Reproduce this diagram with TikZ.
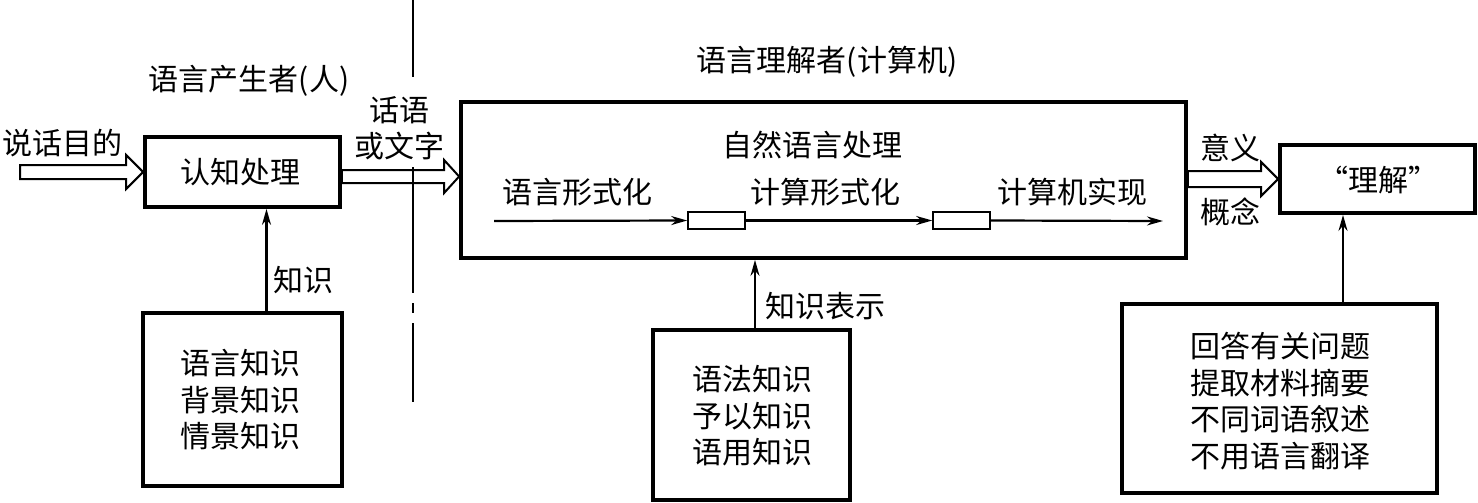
\documentclass[tikz,border=0pt]{standalone}
\usepackage{fontspec}
\newfontfamily\cjk{Noto Sans CJK SC}
\usetikzlibrary{arrows.meta,calc}
\begin{document}
\begin{tikzpicture}[x=1pt,y=-1pt,
  box/.style={draw,line width=3.8pt,inner sep=0pt},
  smallbox/.style={draw,line width=1.6pt,inner sep=0pt,minimum width=57pt,minimum height=17pt},
  lab/.style={font=\cjk\fontsize{30}{36.5}\selectfont,inner sep=0pt,align=center},
  thinarrow/.style={line width=2.2pt,-{Stealth[length=16pt,width=9pt]}},
  hollow/.style={draw,line width=2pt,fill=white,line join=miter},
  sep/.style={line width=2.2pt}
]
\useasboundingbox (0,0) rectangle (1478,503);

% main boxes
\node[box,minimum width=195pt,minimum height=70pt] (cog) at (242.5,172) {};
\node[box,minimum width=725pt,minimum height=156pt] (big) at (823.5,180) {};
\node[box,minimum width=195pt,minimum height=68pt] (und) at (1377.5,179) {};
\node[box,minimum width=199pt,minimum height=173pt] (k1) at (242.5,399.5) {};
\node[box,minimum width=197pt,minimum height=170pt] (k2) at (751.5,415) {};
\node[box,minimum width=315pt,minimum height=189pt] (k3) at (1279.5,398.5) {};

% box texts
\node[lab] (tcog) at (240,172) {认知处理};
\node[lab] (tk1) at (240,400) {语言知识\\背景知识\\情景知识};
\node[lab] (tk2) at (752,416) {语法知识\\予以知识\\语用知识};
\node[lab] (tk3) at (1280,401) {回答有关问题\\提取材料摘要\\不同词语叙述\\不用语言翻译};
\node[lab] (tund) at (1378,180) {“理解”};

% labels
\node[lab] (lpurpose) at (62,143) {说话目的};
\node[lab] (lprod) at (249,81) {语言产生者(人)};
\node[lab] (lspeech) at (399,110) {话语};
\node[lab] (ltext) at (399,146) {或文字};
\node[lab] (lunder) at (827,62) {语言理解者(计算机)};
\node[lab] (lnlp) at (812,145) {自然语言处理};
\node[lab] (lf1) at (577,192) {语言形式化};
\node[lab] (lf2) at (825,192) {计算形式化};
\node[lab] (lf3) at (1072,192) {计算机实现};
\node[lab] (lmean) at (1230,148) {意义};
\node[lab] (lconc) at (1230,212) {概念};
\node[lab] (lknow) at (303,280) {知识};
\node[lab] (lrep) at (825,306) {知识表示};

% inner pipeline
\node[smallbox] (s1) at (716.5,220.5) {};
\node[smallbox] (s2) at (961.5,220.5) {};
\coordinate (p0) at (494,221);
\coordinate (p3) at (1163,221);
\draw[thinarrow] (p0) -- (s1.west);
\draw[thinarrow] (s1.east) -- (s2.west);
\draw[thinarrow] (s2.east) -- (p3);

% knowledge arrows
\draw[thinarrow] (cog.south |- k1.north) ++(24,0) coordinate (a1) -- (a1 |- cog.south);
\draw[thinarrow] (k2.north) ++(3.5,0) coordinate (a2) -- (a2 |- big.south);
\draw[thinarrow] (k3.north) ++(63.5,0) coordinate (a3) -- (a3 |- und.south);

% hollow arrow: purpose -> cognition
\coordinate (inS) at (20,172);
\draw[hollow] ($(inS)+(0,-7)$) -- ($(cog.west)+(-17,-7)$) -- ($(cog.west)+(-17,-17)$)
  -- (cog.west) -- ($(cog.west)+(-17,17)$) -- ($(cog.west)+(-17,7)$) -- ($(inS)+(0,7)$) -- cycle;

% hollow arrow: cognition -> computer
\coordinate (y176) at (0,176.5);
\coordinate (o1) at (cog.east |- y176);
\coordinate (o2) at (big.west |- y176);
\draw[hollow] ($(o1)+(0,-6.5)$) -- ($(o2)+(-15,-6.5)$) -- ($(o2)+(-15,-16.5)$)
  -- (o2) -- ($(o2)+(-15,16.5)$) -- ($(o2)+(-15,6.5)$) -- ($(o1)+(0,6.5)$) -- cycle;

% hollow arrow: computer -> understanding
\coordinate (r1) at (big.east |- und.west);
\draw[hollow] ($(r1)+(0,-8)$) -- ($(und.west)+(-17,-8)$) -- ($(und.west)+(-17,-17)$)
  -- (und.west) -- ($(und.west)+(-17,17)$) -- ($(und.west)+(-17,8)$) -- ($(r1)+(0,8)$) -- cycle;

% separator line
\coordinate (v0) at (413,0);
\coordinate (v1) at (413,77);
\coordinate (v2) at (413,167);
\coordinate (v3) at (413,293);
\coordinate (v4) at (413,303);
\coordinate (v5) at (413,313);
\coordinate (v6) at (413,323);
\coordinate (v7) at (413,402);
\draw[sep] (v0) -- (v1);
\draw[sep] (v2) -- (v3);
\draw[sep] (v4) -- (v5);
\draw[sep] (v6) -- (v7);
\end{tikzpicture}
\end{document}
